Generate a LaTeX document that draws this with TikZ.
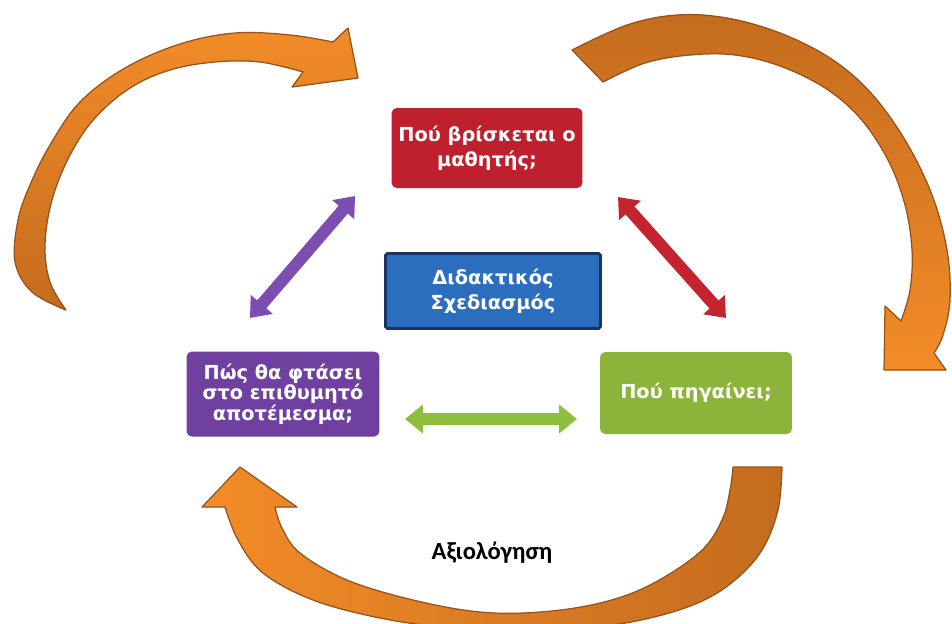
\documentclass[tikz,border=0pt]{standalone}
\usepackage{fontspec}
\setmainfont{DejaVu Sans}
\newfontfamily\evalfont{Carlito}
\usetikzlibrary{arrows.meta}
\definecolor{orLight}{RGB}{242,140,40}
\definecolor{orDark}{RGB}{196,108,30}
\definecolor{orLine}{RGB}{150,80,25}
\definecolor{boxRed}{RGB}{190,32,45}
\definecolor{boxBlue}{RGB}{44,110,190}
\definecolor{boxNavy}{RGB}{26,50,96}
\definecolor{boxPurple}{RGB}{112,64,160}
\definecolor{boxGreen}{RGB}{140,180,58}
\definecolor{arrPurple}{RGB}{124,78,178}
\definecolor{arrRed}{RGB}{196,36,48}
\definecolor{arrGreen}{RGB}{142,190,62}

\begin{document}
\begin{tikzpicture}[x=0.02cm, y=-0.02cm,
  box/.style={rounded corners=3pt, text=white, align=center, inner sep=0pt,
    minimum width=3.84cm, minimum height=1.64cm,
    font=\fontsize{11}{14}\selectfont\bfseries},
  dbl/.style={line width=0.24cm,
    {Triangle[length=0.36cm,width=0.56cm]}-{Triangle[length=0.36cm,width=0.56cm]}},
  curved/.style={draw=orLine, line width=0.7pt, line join=round}]
  \useasboundingbox (0,0) rectangle (952,623);
  \clip (0,0) rectangle (952,623);

  % orange loop arrows
  \draw[curved, top color=orLight, bottom color=orDark]
    plot[smooth, tension=0.6] coordinates {(66,310) (32,292) (15,262) (18,220) (30,185) (50,145) (80,102) (125,68) (180,44) (235,33) (290,35) (333,42)}
    -- (348,28) -- (358,78) -- (292,87) -- (303,72)
    -- plot[smooth, tension=0.6] coordinates {(303,72) (260,62) (215,62) (170,70) (130,88) (95,118) (70,155) (52,200) (45,245) (50,282) (66,310)}
    -- cycle;
  \draw[curved, top color=orDark, bottom color=orLight]
    plot[smooth, tension=0.6] coordinates {(572,50) (627,25) (677,15) (727,18) (780,33) (830,58) (870,92) (905,140) (932,195) (947,250) (950,300) (943,335) (934,353)}
    -- (946,370) -- (884,370) -- (885,306) -- (901,321)
    -- plot[smooth, tension=0.6] coordinates {(901,321) (910,290) (912,250) (905,205) (888,160) (860,118) (825,88) (780,66) (735,55) (690,55) (645,63) (603,82)}
    -- cycle;
  \draw[curved, left color=orLight, right color=orDark]
    (733,467) -- (782,467)
    -- plot[smooth, tension=0.6] coordinates {(782,467) (778,510) (762,550) (735,580) (700,602) (650,618) (590,628) (520,632) (450,628) (380,618) (313,600) (263,573) (238,540) (225,507)}
    -- (202,507) -- (240,467) -- (297,507) -- (275,507)
    -- plot[smooth, tension=0.6] coordinates {(275,507) (282,528) (300,553) (347,580) (413,600) (480,612) (540,612) (600,603) (650,585) (700,552) (722,520) (730,490) (733,467)}
    -- cycle;

  % boxes
  \node[box, fill=boxRed, minimum width=3.82cm, minimum height=1.6cm] (where) at (487,148) {Πού βρίσκεται ο\\μαθητής;};
  \node[box, fill=boxBlue, draw=boxNavy, line width=1.6pt, rounded corners=1pt,
    minimum width=4.3cm, minimum height=1.5cm] (design) at (493,291) {Διδακτικός\\Σχεδιασμός};
  \node[box, fill=boxPurple, minimum width=3.86cm, minimum height=1.7cm,
    font=\fontsize{11}{11.6}\selectfont\bfseries] (how) at (283,394) {Πώς θα φτάσει\\στο επιθυμητό\\αποτέμεσμα;};
  \node[box, fill=boxGreen] (goal) at (696,393) {Πού πηγαίνει;};
  \node[font=\evalfont\bfseries\fontsize{14}{16}\selectfont] (eval) at (492,553) {Αξιολόγηση};

  % double arrows
  \path (250,318) coordinate (hw1) (355,196) coordinate (hw2)
        (618,197) coordinate (wg1) (726,318) coordinate (wg2)
        (405,419) coordinate (gh1) (577,419) coordinate (gh2);
  \draw[dbl, arrPurple] (hw1) -- (hw2);
  \draw[dbl, arrRed] (wg1) -- (wg2);
  \draw[dbl, arrGreen] (gh1) -- (gh2);
\end{tikzpicture}
\end{document}
